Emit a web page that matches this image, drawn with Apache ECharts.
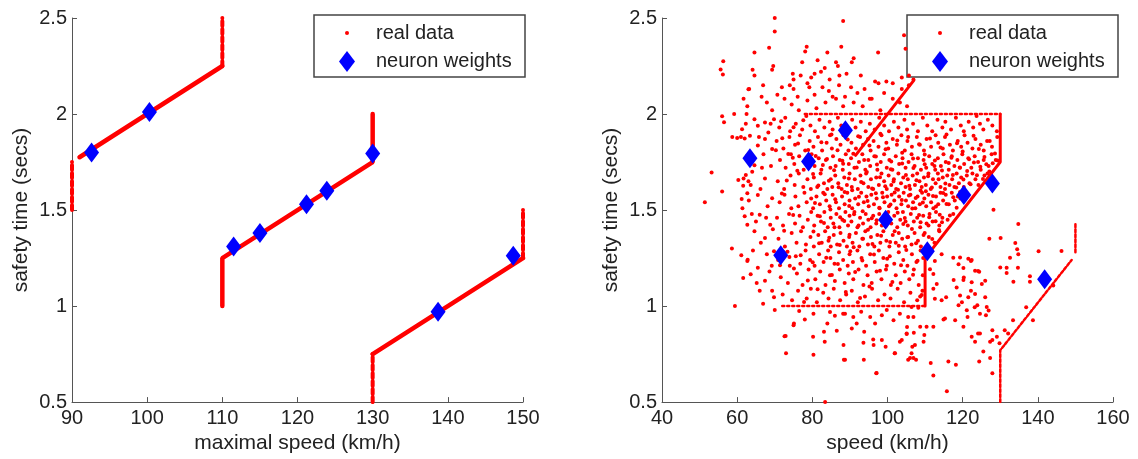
<!DOCTYPE html>
<html>
<head>
<meta charset="utf-8">
<script src="https://cdn.jsdelivr.net/npm/echarts@6/dist/echarts.min.js"></script>
<style>
html, body { margin: 0; padding: 0; background: #fff; }
#main { width: 1138px; height: 459px; }
</style>
</head>
<body>
<div id="main"></div>
<script>
// ---- left panel: maximal speed vs safety time ----
var leftSolid = [
    [[91, 1.775], [110, 2.25]],
    [[110, 1.0], [110, 1.25], [130, 1.75], [130, 2.0]],
    [[130, 0.75], [150, 1.25]]
];
var leftDotted = [
    [[90, 1.5], [90, 1.75]],
    [[110, 2.25], [110, 2.5]],
    [[130, 0.5], [130, 0.75]],
    [[150, 1.25], [150, 1.5]]
];
var leftNeurons = [
    [92.6, 1.80], [100.3, 2.01], [111.5, 1.31], [115.0, 1.38], [121.2, 1.53],
    [123.9, 1.60], [130.0, 1.795], [138.7, 0.97], [148.7, 1.262]
];

// ---- right panel: speed vs safety time ----
var rightSolid = [
    [[110, 1.0], [110, 1.25], [130, 1.75], [130, 2.0]],
    [[91.5, 1.785], [107, 2.175]]
];
var rightEdges = [
    [[78, 2.0], [130, 2.0]],
    [[72, 1.0], [110, 1.0]]
];
var rightDotted = [
    [[130, 0.5], [130, 0.77], [149, 1.24]],
    [[150, 1.28], [150, 1.43]]
];
var rightNeurons = [
    [63.4, 1.77], [71.6, 1.264], [79.0, 1.753], [88.8, 1.916], [99.5, 1.449],
    [110.6, 1.286], [120.3, 1.578], [127.9, 1.638], [141.8, 1.14]
];

var cloudTop = [
    [70.0,2.50],[70.0,2.43],[88.2,2.485],[56.3,2.275],[55.6,2.232],[56.2,2.206],[63.0,2.129],[64.6,2.32],
    [68.5,2.345],[78.5,2.35],[78.1,2.325],[84.0,2.32],[87.7,2.35],[97.5,2.32],[104.4,2.41],[104.8,2.34],
    [91.0,2.29],[90.5,2.27],[69.6,2.25],[69.3,2.23],[77.3,2.27],[81.4,2.28],[83.3,2.24],[86.3,2.27],
    [86.8,2.25],[74.8,2.21],[75.0,2.18],[76.9,2.20],[79.7,2.19],[80.6,2.21],[82.3,2.22],[84.6,2.18],
    [87.2,2.20],[89.1,2.21],[92.9,2.20],[96.7,2.17],[99.7,2.17],[101.4,2.16],[103.8,2.19],[105.7,2.20],
    [64.1,2.23],[64.6,2.20],[63.2,2.13],[66.9,2.15],[71.9,2.14],[70.7,2.10],[74.0,2.15],[75.0,2.13],
    [76.1,2.09],[78.7,2.16],[79.2,2.14],[80.6,2.10],[82.7,2.14],[84.4,2.12],[85.4,2.09],[87.1,2.15],
    [88.7,2.09],[90.3,2.14],[92.0,2.11],[93.9,2.13],[95.8,2.08],[97.6,2.16],[99.1,2.11],[101.4,2.08],
    [103.8,2.13],[105.7,2.15],[61.7,2.08],[62.7,2.04],[66.5,2.09],[67.9,2.06],[69.3,2.02],[72.6,2.08],
    [74.5,2.05],[76.4,2.02],[78.7,2.07],[81.1,2.03],[83.5,2.06],[86.3,2.08],[88.2,2.04],[91.0,2.06],
    [93.4,2.04],[95.3,2.08],[98.1,2.02],[103.3,2.06],[105.2,2.04],[106.9,2.18]
];
var cloudLeft = [
    [56.0,1.988],[56.5,1.957],[59.2,2.0],[62.5,2.0],[62.3,1.949],[58.7,1.88],[60.0,1.875],[61.0,1.88],
    [62.0,1.872],[53.2,1.696],[51.4,1.541],[56.0,1.596],[60.3,1.656],[62.3,1.682],[61.6,1.627],[63.0,1.65],
    [62.7,1.588],[61.2,1.558],[61.4,1.51],[62.0,1.468],[58.6,1.30],[61.1,1.265],[62.8,1.241],[61.6,1.146],
    [59.4,1.0],[62.7,1.784],[64.6,1.733],[65.5,1.836],[67.4,1.87],[69.3,1.818],[61.7,1.664],[63.6,1.63],
    [65.5,1.578],[67.4,1.664],[69.3,1.561],[62.7,1.424],[64.6,1.389],[66.0,1.475],[67.4,1.355],[68.8,1.424],
    [69.8,1.286],[62.7,1.235],[63.6,1.166],[65.5,1.20],[67.4,1.132],[69.3,1.08],[66.9,1.012],[69.8,1.046],
    [61.3,1.921],[63.4,1.887],[65.5,1.939],[68.3,1.904],[69.8,1.973],[64.6,1.973],[67.4,1.956],[64.0,1.70],
    [66.2,1.61],[68.1,1.52],[65.0,1.44],[67.9,1.27],[66.3,1.33],[64.2,1.29],[68.6,1.18],[66.0,1.08],
    [63.1,1.55],[69.0,1.73],[67.0,1.79],[65.8,1.88],[68.9,1.95],[69.5,1.40],[67.7,1.46],[66.6,1.72],
    [63.9,1.48],[65.2,1.12],[69.2,1.21]
];
var cloudRight = [
    [128.2,1.502],[134.8,1.428],[127.1,1.35],[134.5,1.296],[134.8,1.27],[146.3,1.287],[130.0,1.201],[131.7,1.172],
    [134.7,1.20],[133.5,1.127],[137.9,1.155],[137.9,1.127],[144.1,1.107],[119.3,1.253],[121.5,1.247],[122.4,1.24],
    [120.2,1.198],[123.3,1.184],[124.4,1.179],[117.6,1.136],[120.2,1.136],[122.4,1.124],[125.1,1.115],[112.2,1.09],
    [113.1,1.115],[114.4,1.03],[112.6,1.038],[119.3,1.055],[121.5,1.046],[123.3,1.063],[126.0,1.046],[126.4,0.995],
    [118.9,1.004],[121.1,0.978],[123.9,1.004],[115.3,0.935],[118.0,0.926],[120.2,0.892],[124.6,0.96],[126.2,0.952],
    [122.4,0.84],[124.6,0.857],[123.3,0.814],[127.3,0.814],[129.1,0.84],[125.5,0.763],[124.4,0.711],[127.3,0.729],
    [116.2,0.711],[118.2,0.694],[115.8,0.557],[112.2,0.638],[111.5,0.703],[106.4,0.754],[106.0,0.729],[107.3,0.797],
    [109.6,0.814],[109.8,0.849],[110.4,0.892],[114.9,0.93],[112.2,0.892],[108.7,0.892],[107.0,0.861],[105.1,0.854],
    [112.2,1.167],[111.3,1.192],[112.6,1.235],[114.4,1.27],[105.5,0.943],[106.4,0.995],[108.2,0.991],[108.7,1.05],
    [117.5,1.252],[118.9,1.218],[122.2,1.235],[124.1,1.183],[120.3,1.149],[118.4,1.097],[122.2,1.08],[126.0,1.132],
    [115.6,1.046],[119.8,1.02],[123.2,0.994],[126.9,0.977],[127.9,0.874],[124.1,0.857],[121.3,0.943],[132.6,1.252],
    [130.1,1.355],[134.0,1.329],[140.2,1.286],[131.7,1.20],[136.9,0.994],[138.7,0.926],[133.4,0.926],[131.2,0.874],
    [127.9,0.823],[127.9,0.65],[132.1,0.857],[129.8,0.806]
];
var cloudLow = [
    [75.1,0.909],[72.9,0.844],[73.0,0.754],[80.3,0.746],[84.0,0.909],[83.1,0.866],[86.5,0.871],[88.3,0.797],
    [88.7,0.72],[93.8,0.866],[93.6,0.809],[96.3,0.797],[98.5,0.823],[97.1,0.651],[102.0,0.754],[103.3,0.814],
    [105.1,0.857],[106.9,0.729],[105.5,0.72],[83.4,0.50],[88.7,0.96],[90.9,0.943],[95.4,0.943],[96.7,0.909],
    [98.5,0.952],[101.6,0.926],[103.3,0.96],[106.9,0.943],[80.3,0.96],[84.7,0.969],[90.5,0.883],[91.8,0.909],
    [70.0,0.98],[72.6,0.843],[75.0,0.90],[80.2,0.84],[83.3,0.814],[88.2,0.96],[88.4,0.72],[93.7,0.72],
    [96.2,0.826],[97.0,0.65],[99.5,0.788],[101.9,0.754],[103.8,0.823],[105.2,0.891],[106.6,0.788],[107.6,0.72],
    [78.0,0.93],[86.0,0.95],[99.8,0.98],[93.0,0.97],[76.5,0.975]
];
var cloudCore = [
    [71.2,1.93],[72.8,1.98],[74.1,1.91],[75.6,1.95],[77.3,1.92],[78.4,1.99],[79.5,1.94],[80.7,1.91],
    [81.9,1.97],[83.2,1.93],[84.6,1.96],[85.4,1.92],[86.8,1.98],[87.7,1.94],[89.3,1.91],[90.6,1.97],
    [91.5,1.93],[92.9,1.96],[94.2,1.91],[95.3,1.95],[96.6,1.92],[97.8,1.98],[99.1,1.94],[100.4,1.91],
    [101.7,1.96],[102.9,1.93],[104.5,1.97],[105.2,1.92],[106.8,1.95],[108.1,1.91],[109.4,1.98],[110.6,1.94],
    [111.9,1.91],[113.3,1.97],[114.6,1.93],[115.4,1.96],[116.9,1.92],[118.2,1.98],[119.5,1.94],[120.3,1.91],
    [121.6,1.96],[122.8,1.93],[123.7,1.99],[124.6,1.95],[125.5,1.92],[126.7,1.97],[127.9,1.94],[129.1,1.91],

    [70.5,1.86],[72.3,1.82],[73.9,1.88],[75.4,1.84],[76.7,1.89],[78.1,1.81],[79.3,1.86],[80.3,1.83],
    [81.5,1.88],[82.6,1.81],[83.8,1.85],[84.7,1.89],[85.2,1.82],[86.4,1.87],[87.5,1.84],[88.3,1.89],
    [89.6,1.81],[90.4,1.85],[91.6,1.82],[92.7,1.88],[93.5,1.84],[94.8,1.87],[95.5,1.81],[96.3,1.86],
    [97.6,1.83],[98.4,1.89],[99.7,1.85],[100.2,1.82],[101.4,1.87],[102.5,1.84],[103.7,1.89],[104.6,1.81],
    [105.3,1.86],[106.5,1.83],[107.8,1.88],[108.6,1.84],[109.7,1.81],[110.4,1.87],[111.6,1.83],[112.8,1.89],
    [113.5,1.85],[114.7,1.82],[115.3,1.88],[116.6,1.84],[117.4,1.81],[118.7,1.86],[119.6,1.83],[120.5,1.89],
    [121.3,1.85],[122.6,1.82],[123.4,1.87],[124.8,1.84],[125.6,1.81],[126.5,1.86],[127.8,1.83],[129.2,1.88],

    [71.4,1.76],[72.9,1.72],[74.3,1.79],[75.2,1.74],[76.5,1.78],[77.7,1.71],[78.6,1.75],[79.8,1.79],
    [80.6,1.73],[81.7,1.77],[82.4,1.71],[83.6,1.76],[84.8,1.72],[85.5,1.78],[86.2,1.73],[87.3,1.76],
    [88.1,1.71],[88.9,1.79],[89.7,1.74],[90.3,1.77],[91.2,1.72],[92.4,1.75],[93.3,1.79],[94.1,1.71],
    [94.9,1.76],[95.4,1.73],[96.5,1.78],[97.3,1.71],[98.2,1.75],[99.1,1.79],[99.8,1.72],[100.5,1.76],
    [101.3,1.71],[102.2,1.78],[103.1,1.74],[104.0,1.77],[104.8,1.72],[105.6,1.75],[106.4,1.79],[107.2,1.73],
    [108.1,1.77],[108.9,1.71],[109.6,1.76],[110.3,1.72],[111.1,1.78],[111.9,1.74],[112.7,1.71],[113.4,1.77],
    [114.2,1.73],[114.9,1.79],[115.5,1.75],[116.3,1.71],[117.1,1.78],[117.8,1.73],[118.6,1.76],[119.3,1.72],
    [119.9,1.79],[120.4,1.74],[121.5,1.77],[122.3,1.72],[123.2,1.78],[124.1,1.75],[124.8,1.71],[125.6,1.76],
    [126.9,1.73],[127.7,1.79],[128.8,1.76],

    [70.8,1.65],[72.5,1.61],[74.2,1.68],[75.3,1.63],[76.4,1.69],[77.6,1.62],[78.7,1.66],[79.6,1.61],
    [80.4,1.67],[81.3,1.62],[82.2,1.69],[83.1,1.64],[84.0,1.61],[84.9,1.66],[85.3,1.62],[86.1,1.68],
    [86.9,1.64],[87.8,1.61],[88.5,1.67],[89.2,1.63],[89.9,1.69],[90.5,1.62],[91.3,1.66],[92.1,1.61],
    [92.8,1.68],[93.6,1.64],[94.3,1.69],[94.9,1.62],[95.6,1.66],[96.2,1.61],[97.0,1.67],[97.7,1.63],
    [98.4,1.69],[99.1,1.65],[99.8,1.61],[100.3,1.68],[101.0,1.63],[101.7,1.66],[102.3,1.61],[102.9,1.69],
    [103.6,1.64],[104.2,1.67],[104.8,1.62],[105.4,1.66],[106.0,1.61],[106.7,1.68],[107.3,1.63],[107.9,1.69],
    [108.5,1.65],[109.1,1.62],[109.7,1.67],[110.2,1.63],[110.9,1.69],[111.5,1.61],[112.1,1.66],[112.8,1.64],
    [113.4,1.69],[114.1,1.62],[114.7,1.67],[115.3,1.61],[115.9,1.68],[116.5,1.63],[117.2,1.66],[117.8,1.62],
    [118.4,1.69],[119.0,1.64],[119.6,1.67],[120.3,1.62],[121.1,1.68],[121.8,1.64],[122.6,1.69],[123.4,1.66],
    [124.2,1.63],[125.8,1.68],[126.6,1.69],

    [71.3,1.54],[72.6,1.58],[74.4,1.51],[75.5,1.57],[76.3,1.52],[77.9,1.59],[78.5,1.54],[79.7,1.56],
    [80.2,1.51],[81.1,1.57],[82.0,1.53],[82.9,1.59],[83.7,1.55],[84.6,1.52],[85.4,1.58],[86.3,1.54],
    [87.1,1.51],[87.9,1.57],[88.6,1.53],[89.3,1.59],[89.9,1.55],[90.6,1.51],[91.4,1.56],[92.2,1.53],
    [93.0,1.59],[93.7,1.54],[94.4,1.57],[95.0,1.52],[95.7,1.58],[96.4,1.53],[97.1,1.56],[97.9,1.51],
    [98.6,1.59],[99.2,1.54],[99.9,1.57],[100.4,1.52],[101.1,1.58],[101.8,1.55],[102.4,1.51],[103.1,1.57],
    [103.7,1.53],[104.3,1.59],[104.9,1.55],[105.5,1.52],[106.1,1.58],[106.8,1.54],[107.4,1.51],[108.0,1.57],
    [108.6,1.53],[109.2,1.59],[109.8,1.56],[110.3,1.52],[110.9,1.58],[111.6,1.54],[112.2,1.51],[112.9,1.57],
    [113.5,1.53],[114.1,1.59],[114.8,1.55],[115.5,1.58],[116.3,1.53],[117.1,1.59],[117.9,1.55],[118.7,1.57],
    [119.4,1.56],[121.0,1.58],

    [70.6,1.46],[72.2,1.42],[73.8,1.48],[75.4,1.43],[76.6,1.47],[77.5,1.41],[78.8,1.45],[79.7,1.49],
    [80.5,1.42],[81.4,1.47],[82.3,1.44],[83.2,1.49],[84.1,1.41],[84.9,1.46],[85.6,1.43],[86.4,1.48],
    [87.2,1.41],[88.0,1.45],[88.8,1.49],[89.5,1.42],[89.9,1.47],[90.4,1.44],[91.2,1.49],[92.0,1.41],
    [92.7,1.46],[93.5,1.43],[94.2,1.48],[94.9,1.45],[95.5,1.41],[96.2,1.47],[97.0,1.43],[97.8,1.48],
    [98.5,1.42],[99.3,1.46],[100.2,1.49],[101.0,1.43],[101.8,1.47],[102.6,1.41],[103.4,1.45],[104.1,1.49],
    [104.8,1.44],[105.4,1.42],[106.2,1.48],[107.0,1.44],[107.9,1.46],[108.7,1.41],[109.5,1.47],[110.4,1.43],
    [111.2,1.48],[112.0,1.44],[112.9,1.49],[113.8,1.42],[114.6,1.46],[116.0,1.45],[117.5,1.48],

    [71.0,1.35],[72.7,1.31],[74.5,1.38],[75.8,1.33],[77.0,1.39],[78.3,1.32],[79.5,1.36],[80.4,1.31],
    [81.6,1.37],[82.5,1.33],[83.4,1.39],[84.3,1.34],[84.9,1.31],[85.7,1.37],[86.6,1.32],[87.5,1.38],
    [88.3,1.34],[89.2,1.31],[89.8,1.36],[90.7,1.33],[91.6,1.38],[92.5,1.31],[93.3,1.35],[94.1,1.39],
    [94.8,1.32],[95.6,1.36],[96.5,1.31],[97.3,1.37],[98.1,1.33],[98.9,1.39],[99.7,1.34],[100.5,1.31],
    [101.4,1.37],[102.2,1.33],[103.0,1.38],[103.9,1.35],[104.7,1.31],[105.5,1.36],[106.4,1.32],[107.2,1.38],
    [108.1,1.34],[108.9,1.31],[109.6,1.37],[111.0,1.36],[112.5,1.33],[113.8,1.39],

    [70.9,1.24],[72.4,1.28],[74.0,1.21],[75.6,1.26],[76.8,1.22],[78.2,1.29],[79.4,1.24],[80.6,1.21],
    [81.8,1.27],[83.0,1.23],[84.2,1.29],[84.8,1.25],[85.9,1.22],[87.1,1.28],[88.2,1.24],[89.4,1.21],
    [89.9,1.27],[90.8,1.23],[92.0,1.29],[93.1,1.25],[94.3,1.21],[95.4,1.27],[96.6,1.23],[97.7,1.29],
    [98.9,1.25],[99.8,1.21],[100.6,1.26],[101.8,1.22],[103.0,1.28],[104.2,1.24],[105.3,1.21],[106.5,1.27],
    [107.7,1.23],[108.8,1.29],[109.5,1.25],

    [71.6,1.15],[73.5,1.12],[75.9,1.17],[77.4,1.11],[79.0,1.19],[80.8,1.14],[82.1,1.18],[83.5,1.11],
    [84.7,1.16],[86.0,1.13],[87.3,1.19],[88.6,1.12],[89.7,1.17],[90.9,1.14],[92.3,1.19],[93.6,1.11],
    [94.7,1.16],[95.8,1.12],[97.1,1.18],[98.4,1.14],[99.6,1.19],[100.9,1.11],[102.2,1.16],[103.5,1.12],
    [104.6,1.18],[105.8,1.14],[107.0,1.19],[108.3,1.11],[109.4,1.16],

    [72.1,1.06],[74.6,1.03],[76.2,1.08],[78.5,1.04],[79.6,1.09],[81.2,1.02],[82.9,1.07],[84.3,1.04],
    [85.7,1.09],[87.4,1.03],[89.0,1.06],[90.5,1.08],[92.1,1.02],[94.0,1.05],[95.9,1.09],[97.5,1.03],
    [99.2,1.06],[100.8,1.04],[102.7,1.09],[104.4,1.02],[106.1,1.07],[107.9,1.03],[109.3,1.08]
];
var cloudDense = [
    [80.9,1.782],[82.4,1.853],[83.9,1.766],[85.1,1.894],[86.7,1.812],[88.0,1.757],[89.4,1.868],[90.9,1.793],
    [92.2,1.884],[93.8,1.761],[95.2,1.836],[96.9,1.779],[98.1,1.897],[99.5,1.817],[101.0,1.753],[102.6,1.862],
    [103.9,1.798],[105.5,1.881],[106.8,1.768],[108.4,1.842],[109.9,1.789],[111.3,1.873],[112.6,1.758],[114.1,1.826],
    [115.7,1.893],[117.0,1.772],[118.5,1.848],[120.0,1.805],[121.7,1.764],[122.9,1.887],[124.3,1.818],[125.8,1.776],
    [127.2,1.859],[128.6,1.794],
    [80.2,1.688],[81.6,1.628],[82.8,1.734],[84.4,1.652],[85.8,1.707],[87.0,1.619],[88.2,1.741],[89.7,1.664],
    [90.6,1.603],[91.8,1.721],[93.0,1.646],[94.5,1.698],[95.9,1.612],[97.2,1.737],[98.0,1.671],[99.4,1.624],
    [100.9,1.713],[101.6,1.649],[102.8,1.606],[103.9,1.742],[104.9,1.683],[105.8,1.627],[106.9,1.719],[107.7,1.655],
    [108.8,1.602],[109.9,1.738],[110.8,1.676],[111.8,1.618],[112.5,1.729],[113.6,1.661],[114.5,1.706],[115.4,1.638],
    [116.3,1.745],[117.4,1.682],[118.3,1.617],[119.2,1.722],[120.2,1.659],[121.2,1.703],[122.1,1.634],[123.0,1.748],
    [123.8,1.681],[124.7,1.726],[125.4,1.662],[126.3,1.739],[127.1,1.701],[128.0,1.744],[129.3,1.758],
    [80.7,1.537],[82.0,1.468],[83.3,1.582],[84.8,1.503],[86.1,1.556],[87.4,1.462],[88.6,1.594],[89.8,1.521],
    [91.1,1.478],[92.4,1.569],[93.4,1.494],[94.7,1.547],[95.8,1.457],[96.9,1.588],[97.8,1.512],[98.8,1.566],
    [99.9,1.471],[100.8,1.529],[101.9,1.592],[102.7,1.486],[103.8,1.552],[104.6,1.459],[105.7,1.576],[106.6,1.508],
    [107.5,1.563],[108.4,1.474],[109.4,1.539],[110.2,1.598],[111.1,1.462],[112.1,1.573],[112.9,1.518],[113.9,1.476],
    [114.8,1.589],[115.7,1.532],[116.6,1.472],[117.5,1.567],[118.4,1.512],[119.3,1.594],[120.4,1.553],
    [80.3,1.388],[81.8,1.327],[83.1,1.432],[84.5,1.356],[85.9,1.411],[87.3,1.318],[88.5,1.443],[89.9,1.372],
    [91.0,1.306],[92.3,1.419],[93.5,1.351],[94.8,1.397],[96.0,1.323],[97.1,1.447],[98.3,1.366],[99.5,1.415],
    [100.7,1.334],[101.9,1.389],[103.0,1.314],[104.2,1.428],[105.3,1.359],[106.5,1.401],[107.6,1.327],[108.8,1.437],
    [109.9,1.381],[110.9,1.419],[111.9,1.349],[112.8,1.442],[113.7,1.396],[114.5,1.437],
    [73.4,1.283],[75.1,1.196],[76.9,1.264],[78.8,1.133],[80.1,1.228],[81.4,1.087],[83.7,1.251],[85.2,1.162],
    [86.8,1.219],[88.9,1.073],[90.1,1.286],[91.4,1.178],[93.3,1.237],[95.2,1.102],[96.4,1.269],[98.0,1.184],
    [99.9,1.247],[101.3,1.126],[103.6,1.213],[105.0,1.292],[106.8,1.163],[108.0,1.236],[109.1,1.058],[77.8,1.021],
    [92.7,1.042],
    [72.0,1.874],[73.6,1.792],[75.0,1.931],[76.2,1.846],[77.6,1.968],[78.9,1.813],[71.7,1.962],[74.8,1.772],
    [70.3,1.812],[76.0,1.705],[73.2,1.654],[71.9,1.586],[74.9,1.474],[72.5,1.392],[73.9,1.256],[71.4,1.213]
];

var red = '#ff0000';
var blue = '#0000ff';
var font = '"Liberation Sans", Arial, Helvetica, sans-serif';

var mychart = echarts.init(document.getElementById('main'), null, { renderer: 'canvas' });

function xAxisOf(idx, min, max, step, title) {
    return {
        gridIndex: idx, type: 'value', min: min, max: max, interval: step,
        name: title, nameLocation: 'middle', nameGap: 29,
        nameTextStyle: { fontSize: 21, color: '#222', fontFamily: font },
        axisLine: { lineStyle: { color: '#555', width: 1 } },
        axisTick: { inside: true, length: 5, lineStyle: { color: '#555' } },
        axisLabel: { fontSize: 20, color: '#222', fontFamily: font, margin: 6, showMinLabel: true, showMaxLabel: true },
        splitLine: { show: false }
    };
}
function yAxisOf(idx) {
    return {
        gridIndex: idx, type: 'value', min: 0.5, max: 2.5, interval: 0.5,
        name: 'safety time (secs)', nameLocation: 'middle', nameGap: 40,
        nameTextStyle: { fontSize: 21, color: '#222', fontFamily: font },
        axisLine: { show: true, lineStyle: { color: '#555', width: 1 } },
        axisTick: { show: true, inside: true, length: 5, lineStyle: { color: '#555' } },
        axisLabel: { fontSize: 20, color: '#222', fontFamily: font, margin: 5, showMinLabel: true, showMaxLabel: true },
        splitLine: { show: false }
    };
}

function lineSeries(segs, idx, width, dash) {
    return segs.map(function (seg) {
        return {
            name: 'real data', type: 'line', xAxisIndex: idx, yAxisIndex: idx,
            data: seg, symbol: 'none', silent: true, z: 2,
            lineStyle: { color: red, width: width, type: dash || 'solid', cap: 'round', opacity: 1 }
        };
    });
}

function legendBox(x, y) {
    return {
        type: 'group', x: x, y: y, z: 100,
        children: [
            { type: 'rect', shape: { x: 0, y: 0, width: 211, height: 62 },
              style: { fill: '#fff', stroke: '#444', lineWidth: 1.5 } },
            { type: 'circle', shape: { cx: 33, cy: 18, r: 2 }, style: { fill: red } },
            { type: 'polygon', shape: { points: [[33, 36], [41, 46.5], [33, 57], [25, 46.5]] }, style: { fill: blue } },
            { type: 'text', x: 62, y: 18, style: { text: 'real data', fontSize: 20, fontFamily: font, fill: '#222', verticalAlign: 'middle' } },
            { type: 'text', x: 62, y: 46, style: { text: 'neuron weights', fontSize: 20, fontFamily: font, fill: '#222', verticalAlign: 'middle' } }
        ]
    };
}

var cloud = cloudTop.concat(cloudLeft, cloudCore, cloudDense, cloudRight, cloudLow);

var series = []
    .concat(lineSeries(leftSolid, 0, 4.5))
    .concat(lineSeries(leftDotted, 0, 4, [5, 3]))
    .concat([{
        name: 'real data', type: 'scatter', xAxisIndex: 1, yAxisIndex: 1,
        data: cloud, symbolSize: 4, itemStyle: { color: red, opacity: 1 }, z: 1, silent: true
    }])
    .concat(lineSeries(rightSolid, 1, 3))
    .concat(lineSeries(rightEdges, 1, 2.5, [2, 3]))
    .concat(lineSeries(rightDotted, 1, 2.5, [3, 2]))
    .concat([
        { name: 'neuron weights', type: 'scatter', xAxisIndex: 0, yAxisIndex: 0,
          data: leftNeurons, symbol: 'diamond', symbolSize: [15, 20], itemStyle: { color: blue, opacity: 1 }, z: 5 },
        { name: 'neuron weights', type: 'scatter', xAxisIndex: 1, yAxisIndex: 1,
          data: rightNeurons, symbol: 'diamond', symbolSize: [15, 20], itemStyle: { color: blue, opacity: 1 }, z: 5 }
    ]);

var option = {
    backgroundColor: '#fff',
    animation: false,
    grid: [
        { left: 72, top: 18, width: 451, height: 388 },
        { left: 662, top: 18, width: 451, height: 388 }
    ],
    xAxis: [
        xAxisOf(0, 90, 150, 10, 'maximal speed (km/h)'),
        xAxisOf(1, 40, 160, 20, 'speed (km/h)')
    ],
    yAxis: [yAxisOf(0), yAxisOf(1)],
    graphic: [legendBox(314, 15), legendBox(907, 15)],
    series: series
};
mychart.setOption(option);
</script>
</body>
</html>
